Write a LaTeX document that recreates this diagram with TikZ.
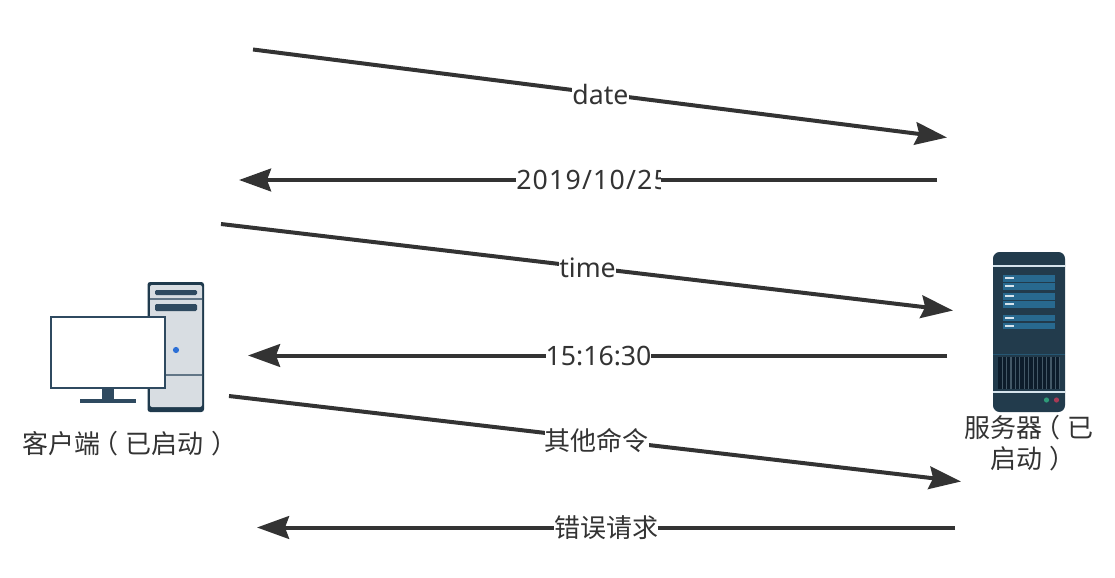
\documentclass[tikz,border=0pt]{standalone}
\usepackage{fontspec}
\setmainfont{Noto Sans CJK SC}
\newfontfamily\latinf{Noto Sans}
\newfontfamily\latinw[LetterSpace=4.5]{Noto Sans}
\newcommand{\lparen}{\makebox[1em][l]{\hspace{-.3em}（}}
\newcommand{\rparen}{\makebox[1em][l]{\hspace{.3em}）}}
\usetikzlibrary{arrows.meta}
\definecolor{ink}{HTML}{333333}
\definecolor{navy}{HTML}{1F3A4D}
\definecolor{slatec}{HTML}{2F4A60}
\definecolor{panel}{HTML}{D8DDE2}
\definecolor{srv}{HTML}{223B4C}
\definecolor{rackc}{HTML}{28698F}
\definecolor{ventc}{HTML}{0C1C2B}
\definecolor{pale}{HTML}{D5E3EC}
\definecolor{dotb}{HTML}{2B6FD6}
\definecolor{dotg}{HTML}{2E9B78}
\definecolor{dotr}{HTML}{A83A55}
\tikzset{
  x=0.75pt,y=-0.75pt,
  msg/.style={draw=ink,line width=3pt,-{Stealth[length=24pt,width=17pt,inset=3pt]}},
  lbl/.style={font=\fontsize{20pt}{24pt}\selectfont,text=ink,fill=white,inner sep=0pt,minimum height=22pt},
  cjklbl/.style={lbl,font=\fontsize{19.5pt}{24pt}\selectfont},
  captext/.style={font=\fontsize{19.5pt}{23.3pt}\selectfont,text=ink,inner sep=0pt,align=center},
}
\begin{document}
\begin{tikzpicture}
\useasboundingbox (0,0) rectangle (1115,578);
\fill[white] (0,0) rectangle (1115,578);
% client tower
\fill[navy,rounded corners=2pt] (147.5,282) rectangle (204,412);
\fill[panel,rounded corners=1.5pt] (150,285) rectangle (202,407);
\fill[slatec,rounded corners=1pt] (155,290) rectangle (197,295);
\draw[slatec!70!panel,line width=0.9pt] (150,299) -- (202,299);
\fill[slatec,rounded corners=1pt] (155,304) rectangle (197,311);
\draw[slatec!70!panel,line width=0.9pt] (150,375) -- (202,375);
\fill[dotb] (176,350) circle (3.1);
% monitor
\fill[slatec] (102,388) rectangle (114,400);
\fill[slatec] (80,399) rectangle (136,402.5);
\node[draw=slatec,fill=white,line width=1.9pt,minimum width=85.5pt,minimum height=53.5pt,inner sep=0pt] (mon) at (108,352.5) {};
\node[captext] (clientlabel) at (126,443.5) {客户端\lparen 已启动\rparen};
% server
\fill[srv,rounded corners=5pt] (993,252) rectangle (1065,412);
\draw[pale,line width=1.2pt] (993,265.7) -- (1065,265.7);
\draw[pale,line width=1.2pt] (993,392) -- (1065,392);
\draw[rackc!60!srv,line width=0.7pt] (993,354.5) -- (1065,354.5);
\foreach \ya/\yb in {275/281.5,283/289.5,293/299.5,301/307.5,314.5/321,322.5/329}{
  \fill[rackc] (1003,\ya) rectangle (1055,\yb);
  \draw[pale,line width=1.5pt] (1005,{(\ya+\yb)/2}) -- (1014,{(\ya+\yb)/2});
}
\fill[ventc] (998,356.5) rectangle (1059,389);
\foreach \i in {0,...,13}{
  \fill[srv!85!white] ({1001.5+4.45*\i},356.5) rectangle ({1002.6+4.45*\i},389);
}
\fill[dotg] (1046.5,400) circle (2.6);
\fill[dotr] (1056.5,400) circle (2.6);
\node[captext] (serverlabel) at (1029,443) {服务器\lparen 已\\启动\rparen};
% connectors
\coordinate (a1) at (253,49.5);  \coordinate (b1) at (947,137.5);
\coordinate (a2) at (937,180); \coordinate (b2) at (239,180);
\coordinate (a3) at (221,224); \coordinate (b3) at (953,310.5);
\coordinate (a4) at (947,355.5); \coordinate (b4) at (248,355.5);
\coordinate (a5) at (229,396); \coordinate (b5) at (961,481.5);
\coordinate (a6) at (955,527.5); \coordinate (b6) at (257,527.5);
\draw[msg] (a1) -- (b1);
\draw[msg] (a2) -- (b2);
\draw[msg] (a3) -- (b3);
\draw[msg] (a4) -- (b4);
\draw[msg] (a5) -- (b5);
\draw[msg] (a6) -- (b6);
\node[lbl] (l1) at (600.5,94) {\latinf date};
\fill[white] (516,166) rectangle (661,194);
\begin{scope}
\clip (516,160) rectangle (660,200);
\node[lbl,fill=none,anchor=west] (l2) at (516,179.5) {\latinw 2019/10/25};
\end{scope}
\node[lbl] (l3) at (587.5,268) {\latinf time};
\node[lbl] (l4) at (598.5,356) {\latinf 15:16:30};
\node[cjklbl] (l5) at (596.5,441) {其他命令};
\node[cjklbl] (l6) at (606,528) {错误请求};
\end{tikzpicture}
\end{document}
